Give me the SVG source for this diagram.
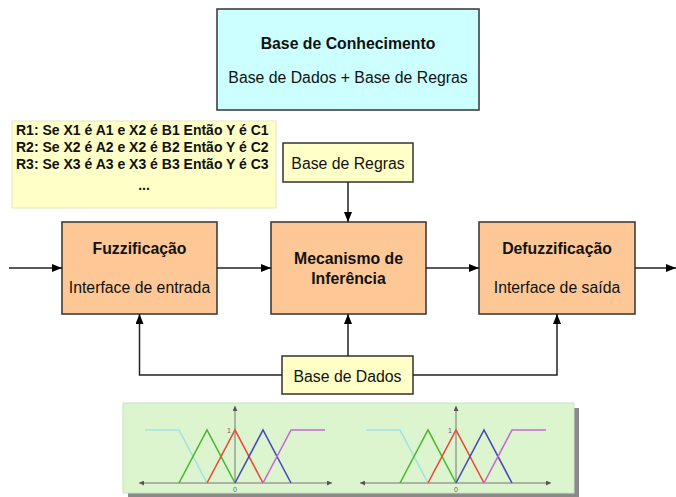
<svg xmlns="http://www.w3.org/2000/svg" width="676" height="497" viewBox="0 0 676 497">
<defs>
<style>
.box{stroke:#333;stroke-width:1.5}
.proc{fill:#fdc896}
.note{fill:#ffffc8}
.t{font-family:"Liberation Sans",Arial,sans-serif;font-size:15.8px;fill:#111;text-anchor:middle}
.b{font-weight:bold}
.r{font-family:"Liberation Sans",Arial,sans-serif;font-size:14px;font-weight:bold;fill:#111}
.ln{fill:none;stroke:#222;stroke-width:1.5}
.ax{fill:none;stroke:#777;stroke-width:1}
.mf{fill:none;stroke-width:1.6}
.small{font-family:"Liberation Sans",Arial,sans-serif;font-size:7px;fill:#666}
</style>
<marker id="ah" markerWidth="10" markerHeight="8" refX="10" refY="4" orient="auto" markerUnits="userSpaceOnUse">
<path d="M0,0 L10,4 L0,8 Z" fill="#000"/>
</marker>
<marker id="sa" markerWidth="5" markerHeight="5" refX="5" refY="2.5" orient="auto" markerUnits="userSpaceOnUse">
<path d="M0,0 L5,2.5 L0,5 Z" fill="#555"/>
</marker>
</defs>
<rect width="676" height="497" fill="#fff"/>

<g id="base-conhecimento">
<rect x="217" y="9" width="262" height="101" fill="#ccffff" class="box"/>
<text x="348" y="49" class="t b">Base de Conhecimento</text>
<text x="348" y="83" class="t">Base de Dados + Base de Regras</text>
</g>

<g id="regras-lista">
<rect x="12" y="121" width="264" height="87" fill="#ffffc8" stroke="#e6e6c0" stroke-width="1"/>
<text x="16" y="135" class="r">R1: Se X1 é A1 e X2 é B1 Então Y é C1</text>
<text x="16" y="152" class="r">R2: Se X2 é A2 e X2 é B2 Então Y é C2</text>
<text x="16" y="169" class="r">R3: Se X3 é A3 e X3 é B3 Então Y é C3</text>
<text x="144" y="190" class="r" text-anchor="middle">...</text>
</g>

<g id="base-regras">
<rect x="283" y="143" width="130" height="39" class="box note"/>
<text x="348" y="169" class="t">Base de Regras</text>
</g>

<g id="fuzzificacao">
<rect x="62" y="222" width="155" height="92" class="box proc"/>
<text x="139.5" y="254" class="t b">Fuzzificação</text>
<text x="139.5" y="293" class="t">Interface de entrada</text>
</g>

<g id="mecanismo">
<rect x="271" y="222" width="155" height="92" class="box proc"/>
<text x="348.5" y="264" class="t b">Mecanismo de</text>
<text x="348.5" y="284" class="t b">Inferência</text>
</g>

<g id="defuzzificacao">
<rect x="479" y="222" width="156" height="92" class="box proc"/>
<text x="557" y="254" class="t b">Defuzzificação</text>
<text x="557" y="293" class="t">Interface de saída</text>
</g>

<g id="base-dados">
<rect x="282" y="356" width="131" height="38" class="box note"/>
<text x="347.5" y="382" class="t">Base de Dados</text>
</g>

<g id="connectors">
<line x1="9" y1="268" x2="62" y2="268" class="ln" marker-end="url(#ah)"/>
<line x1="217" y1="268" x2="271" y2="268" class="ln" marker-end="url(#ah)"/>
<line x1="426" y1="268" x2="479" y2="268" class="ln" marker-end="url(#ah)"/>
<line x1="635" y1="268" x2="676" y2="268" class="ln" marker-end="url(#ah)"/>
<line x1="348" y1="182" x2="348" y2="222" class="ln" marker-end="url(#ah)"/>
<line x1="348" y1="356" x2="348" y2="314" class="ln" marker-end="url(#ah)"/>
<polyline points="282,375 139.5,375 139.5,314" class="ln" marker-end="url(#ah)"/>
<polyline points="413,375 557,375 557,314" class="ln" marker-end="url(#ah)"/>
</g>

<g id="funcoes-pertinencia">
<rect x="128" y="408" width="451" height="90" fill="#8a8a8a"/>
<rect x="123" y="403" width="451" height="90" fill="#dcf5cf" stroke="#c8e6bc" stroke-width="1"/>
<!-- left chart -->
<line x1="235" y1="483" x2="139" y2="483" class="ax" marker-end="url(#sa)"/>
<line x1="235" y1="483" x2="332" y2="483" class="ax" marker-end="url(#sa)"/>
<line x1="235" y1="483" x2="235" y2="406" class="ax" marker-end="url(#sa)"/>
<text x="231" y="433" class="small" text-anchor="end">1</text>
<text x="235" y="492" class="small" text-anchor="middle">0</text>
<polyline points="145,430 179,430 207,483" class="mf" stroke="#9fe3e3"/>
<polyline points="179,483 207,430 235,483" class="mf" stroke="#4cb830"/>
<polyline points="207,483 235,430 263,483" class="mf" stroke="#ea4a3a"/>
<polyline points="235,483 263,430 291,483" class="mf" stroke="#4a4ab8"/>
<polyline points="263,483 291,430 325,430" class="mf" stroke="#c46ad0"/>
<!-- right chart -->
<line x1="456" y1="483" x2="360" y2="483" class="ax" marker-end="url(#sa)"/>
<line x1="456" y1="483" x2="551" y2="483" class="ax" marker-end="url(#sa)"/>
<line x1="456" y1="483" x2="456" y2="406" class="ax" marker-end="url(#sa)"/>
<text x="452" y="433" class="small" text-anchor="end">1</text>
<text x="456" y="492" class="small" text-anchor="middle">0</text>
<polyline points="366,430 400,430 428,483" class="mf" stroke="#9fe3e3"/>
<polyline points="400,483 428,430 456,483" class="mf" stroke="#4cb830"/>
<polyline points="428,483 456,430 484,483" class="mf" stroke="#ea4a3a"/>
<polyline points="456,483 484,430 512,483" class="mf" stroke="#4a4ab8"/>
<polyline points="484,483 512,430 546,430" class="mf" stroke="#c46ad0"/>
</g>
</svg>
